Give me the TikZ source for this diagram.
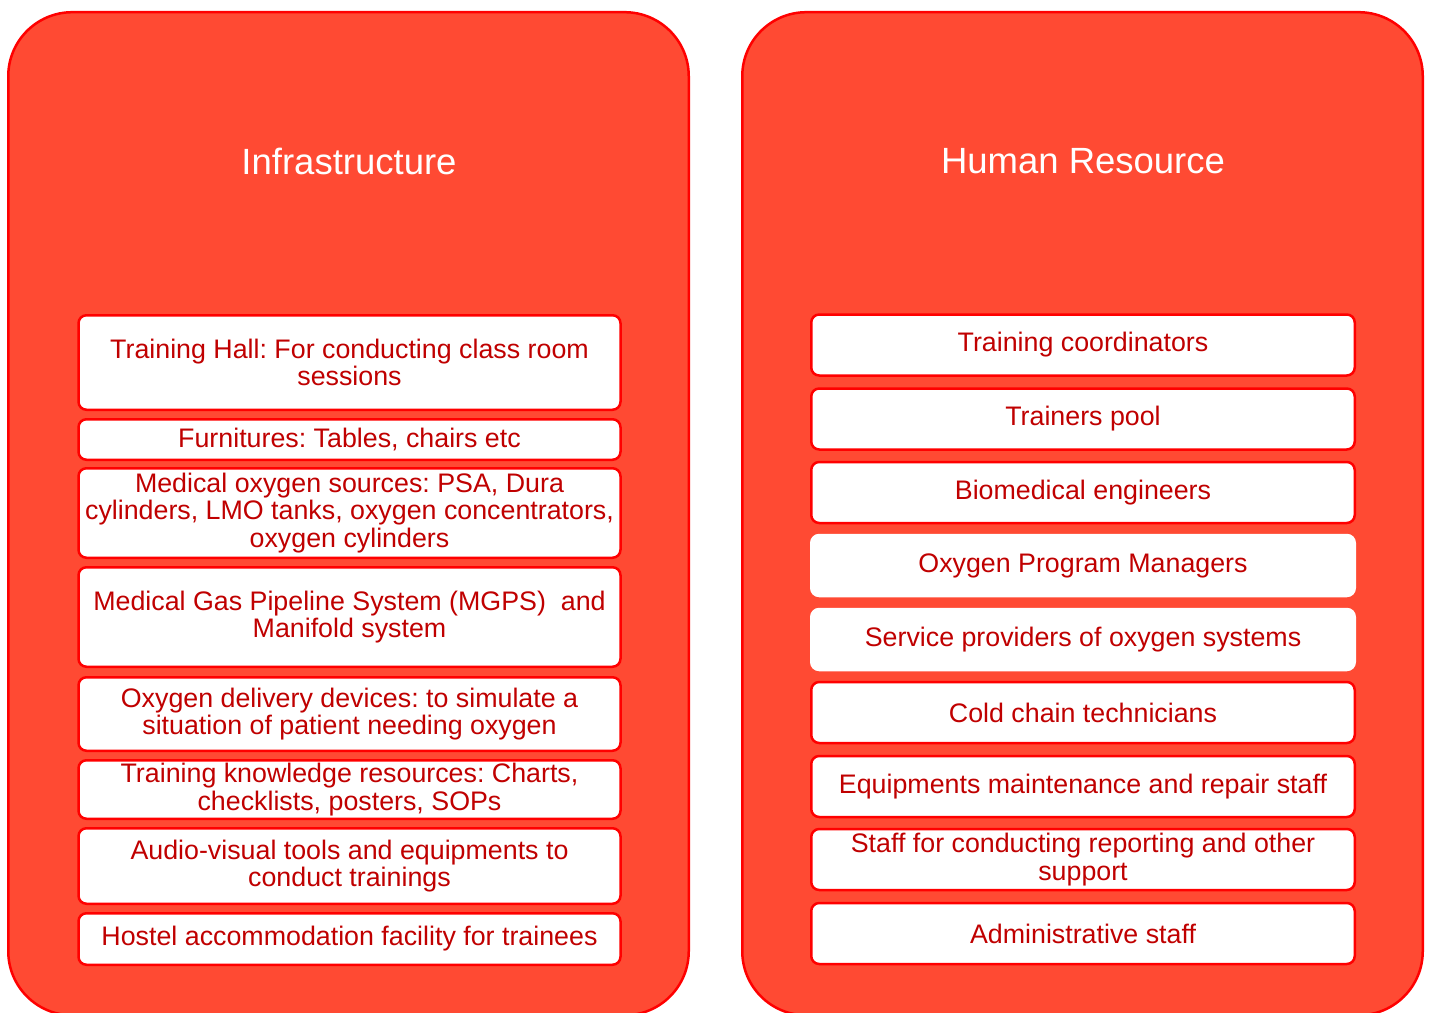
\documentclass[tikz,border=0pt]{standalone}
\usepackage{fontspec}
\setmainfont{Liberation Sans}
\definecolor{panelred}{RGB}{255,74,51}
\definecolor{edgered}{RGB}{255,0,0}
\definecolor{textred}{RGB}{192,0,0}

\begin{document}
\frenchspacing
\begin{tikzpicture}[x=1pt,y=-1pt]
  \tikzstyle{panel}=[draw=edgered, fill=panelred, line width=2.5pt, rounded corners=64pt,
    minimum width=680.5pt, minimum height=1003pt, inner sep=0pt]
  \tikzstyle{heading}=[text=white, font=\fontsize{36.5}{40}\selectfont]
  \tikzstyle{item}=[draw=edgered, fill=white, line width=2.5pt, rounded corners=8pt,
    minimum width=542pt, inner sep=2pt, align=center, text=textred,
    font=\fontsize{26.8}{27.8}\selectfont]
  \tikzstyle{hritem}=[item, minimum width=543.5pt, minimum height=61pt]

  \useasboundingbox (0,0) rectangle (1432,1012);

  % Infrastructure panel
  \node[panel] (infra) at (348.5,513.7) {};
  \node[heading] (infratitle) at (349,161) {Infrastructure};
  \node[item, minimum height=94.5pt] (hall) at (349.5,362.5) {Training Hall: For conducting class room\\sessions};
  \node[item, minimum height=40.5pt] (furniture) at (349.5,439.5) {Furnitures: Tables, chairs etc};
  \node[item, minimum height=89.5pt] (sources) at (349.5,513) {Medical oxygen sources: PSA, Dura\\cylinders, LMO tanks, oxygen concentrators,\\oxygen cylinders};
  \node[item, minimum height=99.5pt] (mgps) at (349.5,617) {Medical Gas Pipeline System (MGPS)~ and\\Manifold system};
  \node[item, minimum height=73.5pt] (devices) at (349.5,714) {Oxygen delivery devices: to simulate a\\situation of patient needing oxygen};
  \node[item, minimum height=58.5pt] (resources) at (349.5,789.5) {Training knowledge resources: Charts,\\checklists, posters, SOPs};
  \node[item, minimum height=75.5pt] (avtools) at (349.5,866) {Audio-visual tools and equipments to\\conduct trainings};
  \node[item, minimum height=51.5pt] (hostel) at (349.5,939) {Hostel accommodation facility for trainees};

  % Human resource panel
  \node[panel] (hr) at (1082.5,513.7) {};
  \node[heading] (hrtitle) at (1083,161) {Human Resource};
  \node[hritem] (coord) at (1083,345) {Training coordinators};
  \node[hritem] (trainers) at (1083,419) {Trainers pool};
  \node[hritem] (biomed) at (1083,492.5) {Biomedical engineers};
  \node[hritem, draw=white] (managers) at (1083,565.5) {Oxygen Program Managers};
  \node[hritem, draw=white] (providers) at (1083,639.5) {Service providers of oxygen systems};
  \node[hritem] (coldchain) at (1083,712.5) {Cold chain technicians};
  \node[hritem] (maintenance) at (1083,786.5) {Equipments maintenance and repair staff};
  \node[hritem] (reporting) at (1083,859.5) {Staff for conducting reporting and other\\support};
  \node[hritem] (admin) at (1083,933.5) {Administrative staff};
\end{tikzpicture}
\end{document}
